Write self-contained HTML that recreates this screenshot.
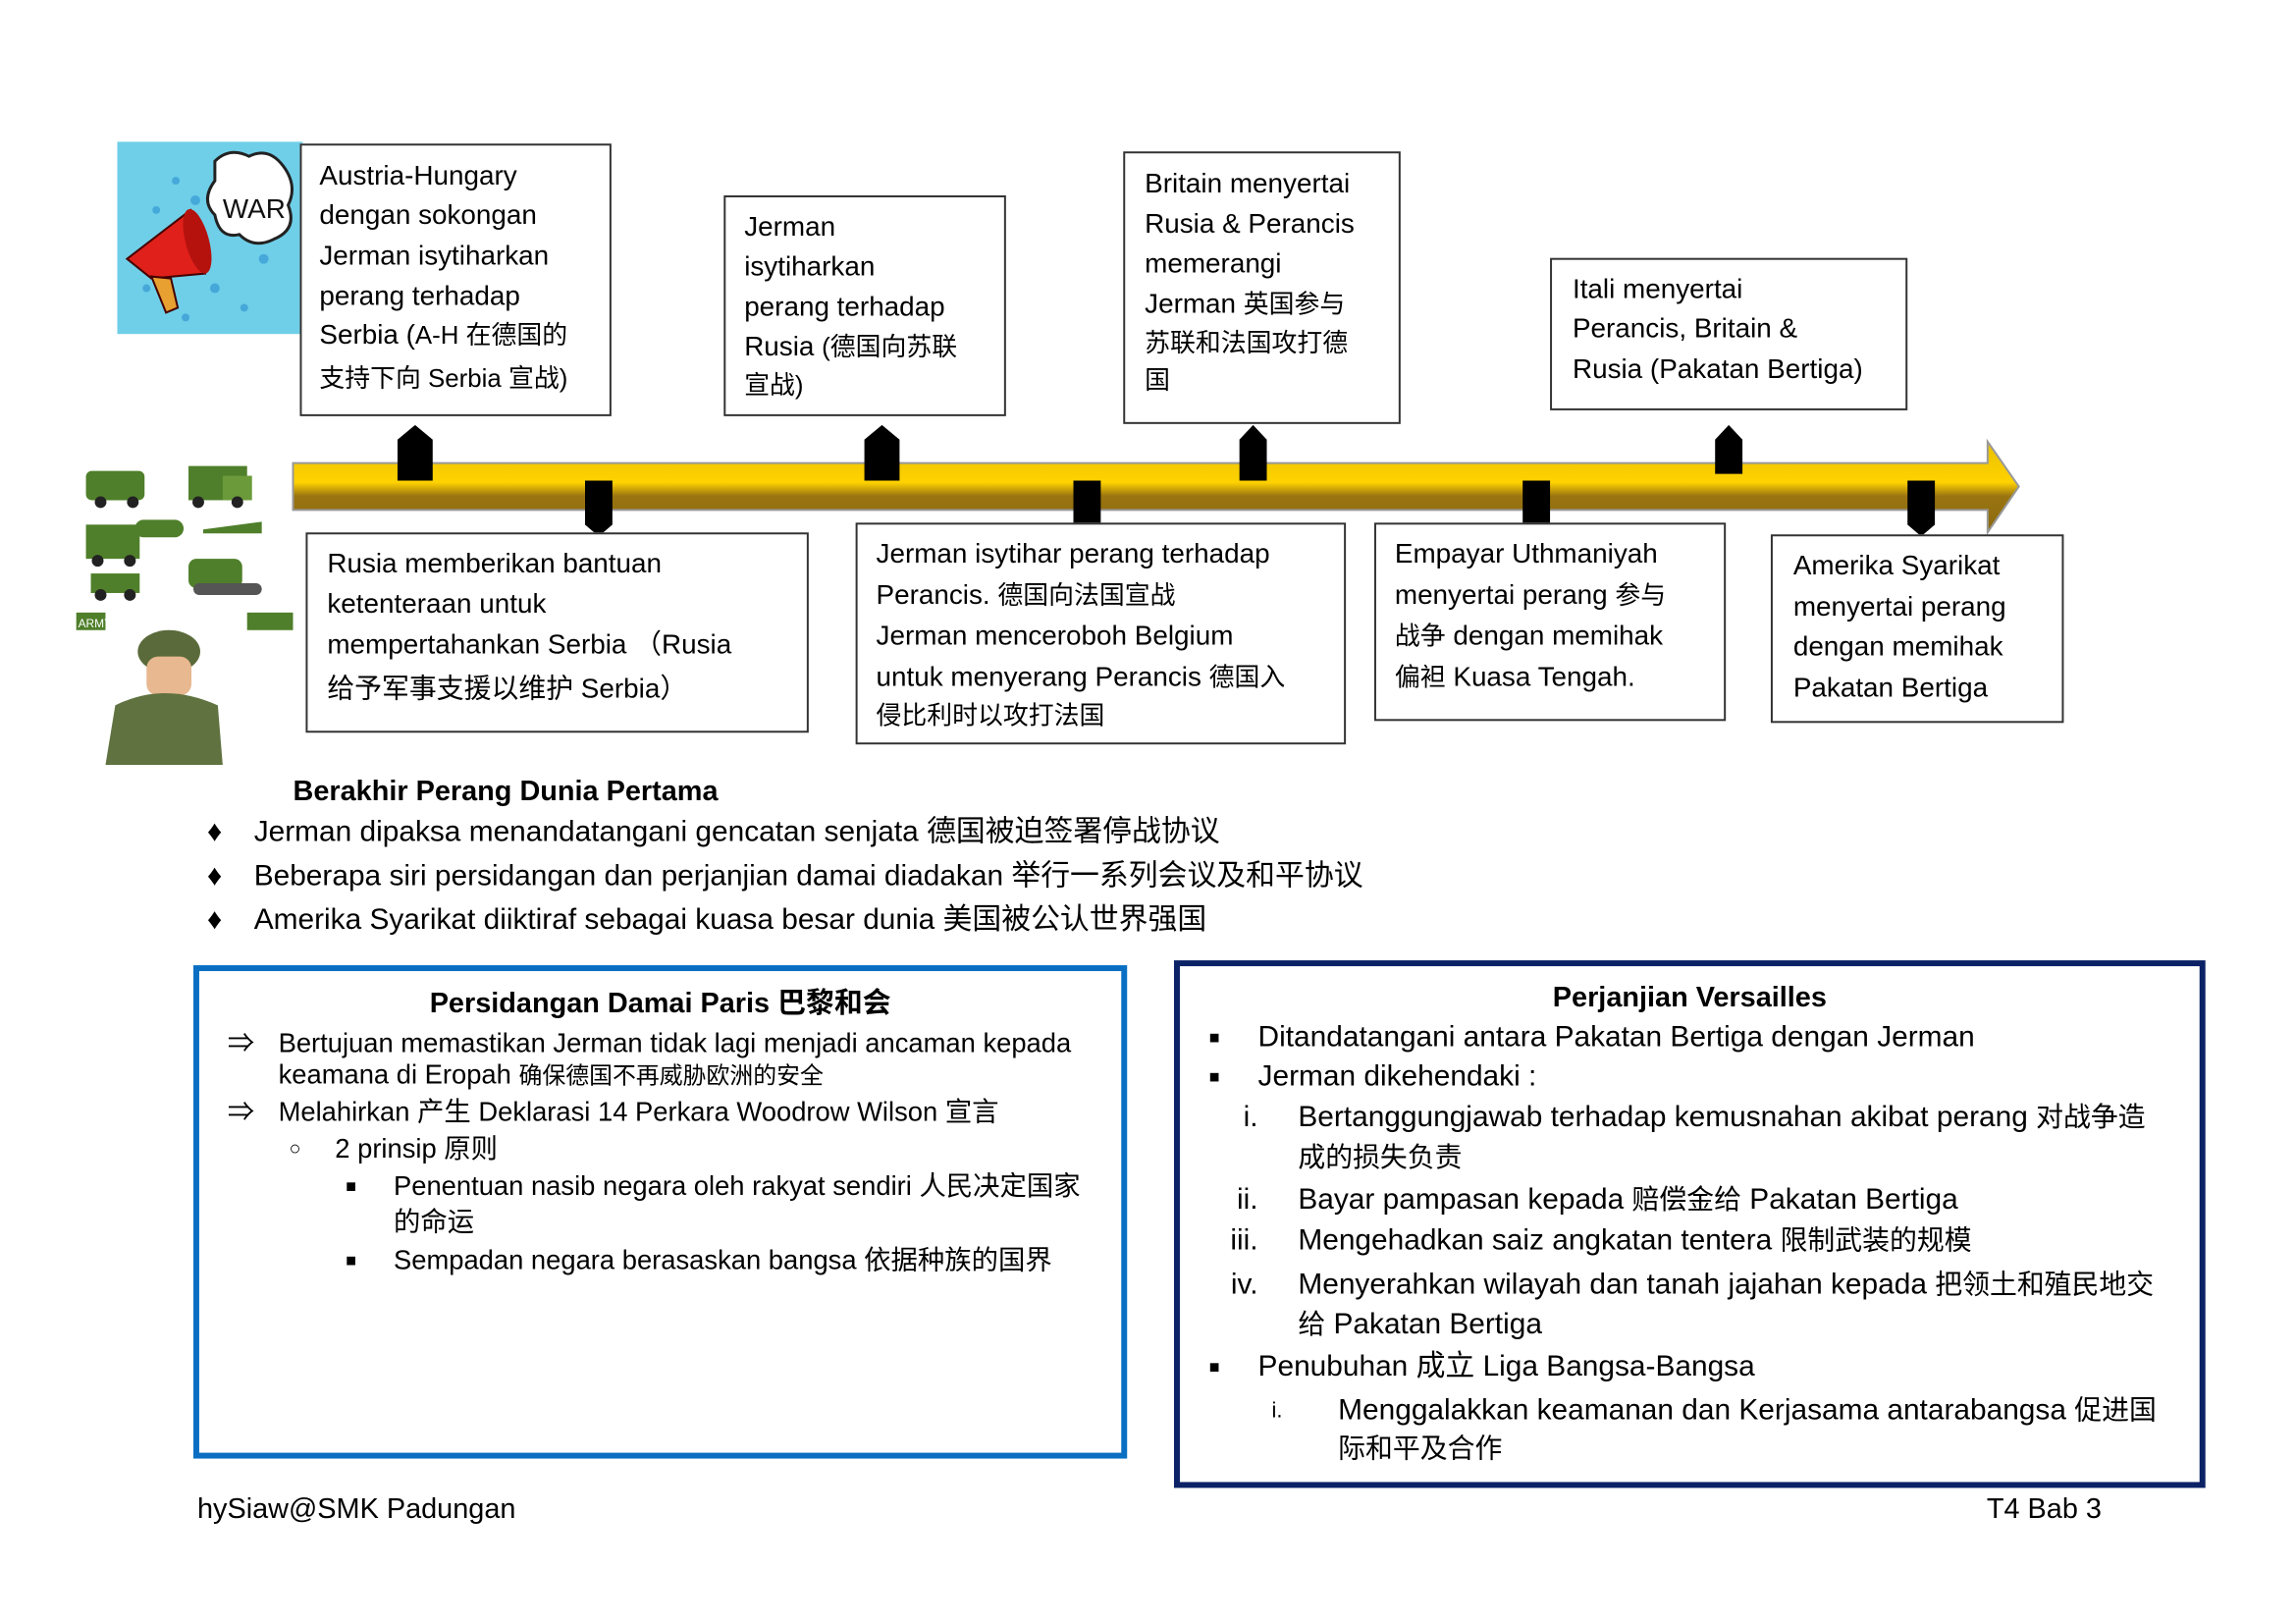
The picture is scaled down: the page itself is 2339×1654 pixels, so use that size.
<!DOCTYPE html>
<html><head><meta charset="utf-8"><style>
body{margin:0;width:2339px;height:1654px;background:#fff;position:relative;overflow:hidden;font-family:"Liberation Sans","Noto Sans CJK SC",sans-serif;color:#000}
#w{position:absolute;left:0;top:0;width:2339px;height:1654px;transform:scale(0.995);transform-origin:0 0}
.b{position:absolute;border:2px solid #333;background:#fff;box-sizing:border-box}
.l{position:absolute;white-space:nowrap;font-size:28px;line-height:40px}
.a{position:absolute;white-space:nowrap;font-size:27.5px;line-height:34px}
.c{font-size:26px}
.v{font-size:30px}
.v .c{font-size:28px}
</style></head><body><div id="w">

<!-- WAR image -->
<svg style="position:absolute;left:120px;top:145px" width="190" height="197" viewBox="0 0 190 197">
<rect width="190" height="197" fill="#6fcfe8"/>
<g fill="#2b8fd0" opacity=".6"><circle cx="60" cy="40" r="4"/><circle cx="80" cy="60" r="5"/><circle cx="40" cy="70" r="4"/><circle cx="100" cy="150" r="5"/><circle cx="130" cy="170" r="4"/><circle cx="150" cy="120" r="5"/><circle cx="30" cy="150" r="4"/><circle cx="70" cy="180" r="4"/></g>
<path d="M100 20 q15-15 35-5 q20-10 35 10 q15 20 5 40 q10 25-15 35 q-20 10-35-5 q-20 5-25-20 q-15-15 0-35 z" fill="#fff" stroke="#222" stroke-width="3"/>
<text x="108" y="78" font-family="Liberation Sans" font-size="28" fill="#111">WAR</text>
<path d="M10 120 L75 70 L90 135 L35 140 z" fill="#e0201a" stroke="#400" stroke-width="2"/>
<ellipse cx="82" cy="102" rx="12" ry="34" fill="#b5120e" transform="rotate(-15 82 102)"/>
<path d="M35 138 L50 175 L62 170 L55 140 z" fill="#e8a030" stroke="#400" stroke-width="2"/>
</svg>

<!-- Army image -->
<svg style="position:absolute;left:78px;top:472px" width="222" height="311" viewBox="0 0 222 311">
<g fill="#4f7f2a"><rect x="10" y="10" width="60" height="30" rx="6"/><rect x="115" y="5" width="60" height="35"/><rect x="150" y="15" width="30" height="25" fill="#6a9a3a"/>
<rect x="10" y="65" width="55" height="35"/><rect x="60" y="60" width="50" height="18" rx="9"/><path d="M130 70 l60-8 0 12 -60 0z"/>
<rect x="15" y="115" width="50" height="20"/><rect x="115" y="100" width="55" height="30" rx="8"/><rect x="120" y="125" width="70" height="12" rx="6" fill="#555"/>
<rect x="0" y="155" width="30" height="18"/><rect x="175" y="155" width="47" height="18"/></g>
<g fill="#222"><circle cx="25" cy="42" r="6"/><circle cx="58" cy="42" r="6"/><circle cx="125" cy="42" r="6"/><circle cx="165" cy="42" r="6"/><circle cx="22" cy="102" r="6"/><circle cx="55" cy="102" r="6"/><circle cx="25" cy="137" r="6"/><circle cx="55" cy="137" r="6"/></g>
<text x="2" y="170" font-family="Liberation Sans" font-size="12" fill="#fff">ARMY</text>
<ellipse cx="95" cy="195" rx="32" ry="22" fill="#5a6a3a"/>
<rect x="72" y="200" width="46" height="40" rx="12" fill="#e8b890"/>
<path d="M30 311 L40 250 Q90 225 145 250 L150 311z" fill="#5f7240"/>
</svg>

<!-- Top boxes -->
<div class="b" style="left:307px;top:147px;width:319px;height:279px"></div>
<div class="l" style="left:327px;top:160px">Austria-Hungary</div>
<div class="l" style="left:327px;top:200px">dengan sokongan</div>
<div class="l" style="left:327px;top:242px">Jerman isytiharkan</div>
<div class="l" style="left:327px;top:283px">perang terhadap</div>
<div class="l" style="left:327px;top:323px">Serbia (<span class="c">A-H 在德国的</span></div>
<div class="l c" style="left:327px;top:367px">支持下向 Serbia 宣战)</div>

<div class="b" style="left:741px;top:200px;width:289px;height:226px"></div>
<div class="l" style="left:762px;top:212px">Jerman</div>
<div class="l" style="left:762px;top:253px">isytiharkan</div>
<div class="l" style="left:762px;top:294px">perang terhadap</div>
<div class="l" style="left:762px;top:335px">Rusia <span class="c">(德国向苏联</span></div>
<div class="l c" style="left:762px;top:374px">宣战)</div>

<div class="b" style="left:1150px;top:155px;width:284px;height:279px"></div>
<div class="l" style="left:1172px;top:168px">Britain menyertai</div>
<div class="l" style="left:1172px;top:209px">Rusia &amp; Perancis</div>
<div class="l" style="left:1172px;top:250px">memerangi</div>
<div class="l" style="left:1172px;top:291px">Jerman <span class="c">英国参与</span></div>
<div class="l c" style="left:1172px;top:331px">苏联和法国攻打德</div>
<div class="l c" style="left:1172px;top:369px">国</div>

<div class="b" style="left:1587px;top:264px;width:366px;height:156px"></div>
<div class="l" style="left:1610px;top:276px">Itali menyertai</div>
<div class="l" style="left:1610px;top:316px">Perancis, Britain &amp;</div>
<div class="l" style="left:1610px;top:358px">Rusia (Pakatan Bertiga)</div>

<!-- Arrow -->
<svg style="position:absolute;left:0;top:0" width="2339" height="600">
<defs><linearGradient id="g" x1="0" y1="0" x2="0" y2="1"><stop offset="0" stop-color="#e8c000"/><stop offset=".45" stop-color="#ffd200"/><stop offset=".6" stop-color="#9a7410"/><stop offset="1" stop-color="#8a6a10"/></linearGradient></defs>
<path d="M300 474 L2035 474 L2035 452 L2067 498 L2035 545 L2035 522 L300 522 Z" fill="url(#g)" stroke="#999" stroke-width="2"/>
<g fill="#000">
<path d="M407 492 L407 450 L425 435 L443 450 L443 492Z"/>
<path d="M885 492 L885 450 L903 435 L921 450 L921 492Z"/>
<path d="M1269 492 L1269 450 L1283 435 L1297 450 L1297 492Z"/>
<path d="M1756 485 L1756 450 L1770 435 L1784 450 L1784 485Z"/>
<path d="M599 492 L627 492 L627 537 L613 549 L599 537Z"/>
<path d="M1099 492 L1127 492 L1127 537 L1113 549 L1099 537Z"/>
<path d="M1559 492 L1587 492 L1587 537 L1573 549 L1559 537Z"/>
<path d="M1953 492 L1981 492 L1981 537 L1967 549 L1953 537Z"/>
</g></svg>

<!-- Lower boxes -->
<div class="b" style="left:313px;top:545px;width:515px;height:205px"></div>
<div class="l" style="left:335px;top:557px">Rusia memberikan bantuan</div>
<div class="l" style="left:335px;top:598px">ketenteraan untuk</div>
<div class="l" style="left:335px;top:640px">mempertahankan Serbia （Rusia</div>
<div class="l" style="left:335px;top:685px">给予军事支援以维护 Serbia）</div>

<div class="b" style="left:876px;top:535px;width:502px;height:227px"></div>
<div class="l" style="left:897px;top:547px">Jerman isytihar perang terhadap</div>
<div class="l" style="left:897px;top:589px">Perancis. <span class="c">德国向法国宣战</span></div>
<div class="l" style="left:897px;top:631px">Jerman menceroboh Belgium</div>
<div class="l" style="left:897px;top:673px">untuk menyerang Perancis <span class="c">德国入</span></div>
<div class="l c" style="left:897px;top:712px">侵比利时以攻打法国</div>

<div class="b" style="left:1407px;top:535px;width:360px;height:203px"></div>
<div class="l" style="left:1428px;top:547px">Empayar Uthmaniyah</div>
<div class="l" style="left:1428px;top:589px">menyertai perang <span class="c">参与</span></div>
<div class="l" style="left:1428px;top:631px"><span class="c">战争</span> dengan memihak</div>
<div class="l" style="left:1428px;top:673px"><span class="c">偏袒</span> Kuasa Tengah.</div>

<div class="b" style="left:1813px;top:547px;width:300px;height:193px"></div>
<div class="l" style="left:1836px;top:559px">Amerika Syarikat</div>
<div class="l" style="left:1836px;top:601px">menyertai perang</div>
<div class="l" style="left:1836px;top:642px">dengan memihak</div>
<div class="l" style="left:1836px;top:684px">Pakatan Bertiga</div>

<!-- Berakhir -->
<div class="l" style="left:300px;top:790px;font-weight:bold;font-size:29px">Berakhir Perang Dunia Pertama</div>
<div class="l" style="left:212px;top:832px;font-size:30px">♦</div>
<div class="l" style="left:260px;top:832px;font-size:30px">Jerman dipaksa menandatangani gencatan senjata 德国被迫签署停战协议</div>
<div class="l" style="left:212px;top:877px;font-size:30px">♦</div>
<div class="l" style="left:260px;top:877px;font-size:30px">Beberapa siri persidangan dan perjanjian damai diadakan 举行一系列会议及和平协议</div>
<div class="l" style="left:212px;top:922px;font-size:30px">♦</div>
<div class="l" style="left:260px;top:922px;font-size:30px">Amerika Syarikat diiktiraf sebagai kuasa besar dunia 美国被公认世界强国</div>

<!-- Paris box -->
<div style="position:absolute;left:198px;top:988px;width:956px;height:505px;border:6px solid #0a6fc2;box-sizing:border-box"></div>
<div class="l" style="left:200px;width:952px;text-align:center;top:1007px;font-weight:bold;font-size:29px">Persidangan Damai Paris 巴黎和会</div>
<div class="a" style="left:233px;top:1051px">⇒</div>
<div class="a" style="left:285px;top:1051px">Bertujuan memastikan Jerman tidak lagi menjadi ancaman kepada</div>
<div class="a" style="left:285px;top:1083px">keamana di Eropah <span style="font-size:24px">确保德国不再威胁欧洲的安全</span></div>
<div class="a" style="left:233px;top:1121px">⇒</div>
<div class="a" style="left:285px;top:1121px">Melahirkan 产生 Deklarasi 14 Perkara Woodrow Wilson 宣言</div>
<div class="a" style="left:296px;top:1159px;font-size:20px">○</div>
<div class="a" style="left:343px;top:1159px">2 prinsip 原则</div>
<div class="a" style="left:354px;top:1197px;font-size:18px">■</div>
<div class="a" style="left:403px;top:1197px">Penentuan nasib negara oleh rakyat sendiri 人民决定国家</div>
<div class="a" style="left:403px;top:1234px">的命运</div>
<div class="a" style="left:354px;top:1273px;font-size:18px">■</div>
<div class="a" style="left:403px;top:1273px">Sempadan negara berasaskan bangsa 依据种族的国界</div>

<!-- Versailles box -->
<div style="position:absolute;left:1202px;top:983px;width:1056px;height:540px;border:6px solid #0b2266;box-sizing:border-box"></div>
<div class="l" style="left:1204px;width:1052px;text-align:center;top:1001px;font-weight:bold;font-size:29px">Perjanjian Versailles</div>
<div class="l" style="left:1238px;top:1042px;font-size:18px">■</div>
<div class="l v" style="left:1288px;top:1042px">Ditandatangani antara Pakatan Bertiga dengan Jerman</div>
<div class="l" style="left:1238px;top:1082px;font-size:18px">■</div>
<div class="l v" style="left:1288px;top:1082px">Jerman dikehendaki :</div>
<div class="l v" style="left:1220px;width:68px;text-align:right;top:1124px">i.</div>
<div class="l v" style="left:1329px;top:1124px">Bertanggungjawab terhadap kemusnahan akibat perang <span class="c">对战争造</span></div>
<div class="l v" style="left:1329px;top:1165px"><span class="c">成的损失负责</span></div>
<div class="l v" style="left:1220px;width:68px;text-align:right;top:1208px">ii.</div>
<div class="l v" style="left:1329px;top:1208px">Bayar pampasan kepada <span class="c">赔偿金给</span> Pakatan Bertiga</div>
<div class="l v" style="left:1220px;width:68px;text-align:right;top:1250px">iii.</div>
<div class="l v" style="left:1329px;top:1250px">Mengehadkan saiz angkatan tentera <span class="c">限制武装的规模</span></div>
<div class="l v" style="left:1220px;width:68px;text-align:right;top:1295px">iv.</div>
<div class="l v" style="left:1329px;top:1295px">Menyerahkan wilayah dan tanah jajahan kepada <span class="c">把领土和殖民地交</span></div>
<div class="l v" style="left:1329px;top:1336px"><span class="c">给</span> Pakatan Bertiga</div>
<div class="l" style="left:1238px;top:1379px;font-size:18px">■</div>
<div class="l v" style="left:1288px;top:1379px">Penubuhan 成立 Liga Bangsa-Bangsa</div>
<div class="l" style="left:1302px;top:1424px;font-size:22px">i.</div>
<div class="l v" style="left:1370px;top:1424px">Menggalakkan keamanan dan Kerjasama antarabangsa <span class="c">促进国</span></div>
<div class="l v" style="left:1370px;top:1463px"><span class="c">际和平及合作</span></div>

<div class="l" style="left:202px;top:1525px;font-size:29px">hySiaw@SMK Padungan</div>
<div class="l" style="left:2034px;top:1525px;font-size:29px">T4 Bab 3</div>
</div></body></html>
